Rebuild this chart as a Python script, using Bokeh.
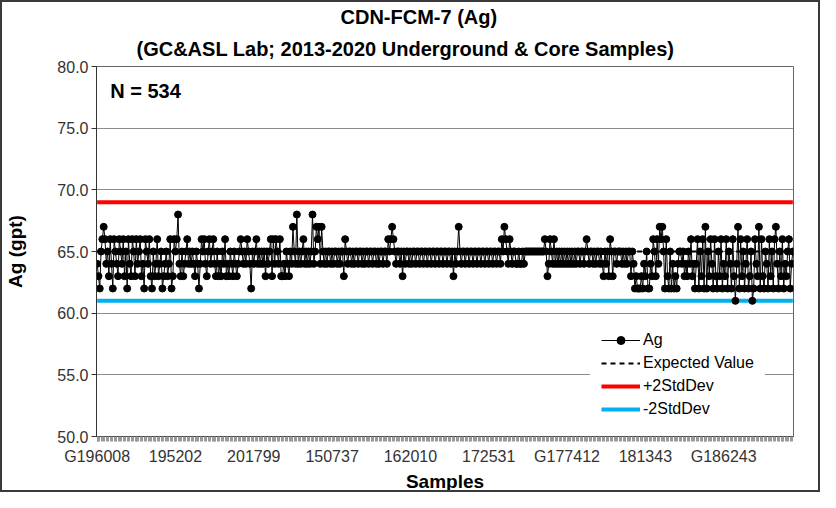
from bokeh.plotting import figure
from bokeh.models import (Range1d, FixedTicker, NumeralTickFormatter, Label, Title,
                          Legend, LegendItem, ColumnDataSource)
from bokeh.embed import file_html
from bokeh.resources import INLINE

# ---------------- data ----------------
title_line1 = "CDN-FCM-7 (Ag)"
title_line2 = "(GC&ASL Lab; 2013-2020 Underground & Core Samples)"
x_title = "Samples"
y_title = "Ag (gpt)"

tick_labels = ["G196008", "195202", "201799", "150737", "162010",
               "172531", "G177412", "181343", "G186243"]
label_every = 60

expected_value = 65.0
plus_2sd = 69.0
minus_2sd = 61.0

ag_values = [
    # 0-59
    64, 63, 62, 65, 66, 67, 66, 64, 65, 63, 66, 64, 62, 66, 65, 64, 63, 66, 65, 64,
    66, 63, 65, 62, 66, 64, 63, 66, 65, 63, 66, 64, 65, 66, 63, 64, 62, 66, 65, 64,
    66, 63, 62, 65, 63, 64, 66, 63, 64, 65, 62, 63, 64, 65, 63, 64, 66, 62, 63, 66,
    # 60-119
    65, 66, 68, 64, 63, 65, 63, 64, 65, 66, 64, 65, 64, 65, 64, 63, 65, 64, 62, 64,
    66, 65, 66, 64, 63, 65, 66, 64, 65, 66, 64, 63, 65, 63, 64, 63, 65, 64, 66, 63,
    64, 63, 65, 64, 63, 65, 64, 63, 64, 65, 66, 65, 64, 65, 64, 66, 65, 64, 62, 65,
    # 120-179
    64, 65, 66, 64, 65, 64, 65, 64, 65, 63, 65, 64, 65, 66, 63, 66, 64, 66, 65, 64,
    66, 63, 63, 64, 63, 65, 64, 63, 65, 64, 67, 65, 64, 68, 64, 65, 64, 65, 66, 64,
    65, 64, 65, 64, 65, 68, 64, 65, 67, 66, 67, 64, 67, 65, 64, 65, 64, 65, 65, 64,
    # 180-239
    65, 64, 65, 65, 64, 65, 64, 65, 65, 63, 66, 65, 64, 65, 65, 64, 65, 64, 65, 65,
    64, 65, 65, 64, 65, 64, 65, 65, 64, 65, 65, 64, 65, 65, 64, 65, 64, 65, 65, 64,
    65, 65, 64, 66, 65, 66, 67, 66, 65, 64, 65, 65, 64, 65, 63, 65, 64, 65, 65, 64,
    # 240-299
    65, 64, 65, 65, 64, 65, 65, 64, 65, 65, 64, 65, 65, 64, 65, 65, 64, 65, 65, 64,
    65, 65, 64, 65, 65, 64, 65, 65, 64, 65, 65, 64, 65, 63, 65, 64, 65, 67, 65, 64,
    65, 65, 64, 65, 65, 64, 65, 65, 64, 65, 65, 64, 65, 65, 64, 65, 65, 64, 65, 65,
    # 300-359
    64, 65, 65, 64, 65, 65, 64, 65, 65, 64, 66, 65, 67, 66, 65, 64, 66, 65, 64, 65,
    65, 64, 64, 65, 64, 64, 65, 64, 65, 65, 65, 65, 65, 65, 65, 65, 65, 65, 65, 65,
    65, 65, 65, 66, 65, 63, 64, 66, 65, 64, 66, 64, 65, 64, 65, 64, 65, 64, 65, 64,
    # 360-419
    65, 64, 65, 64, 65, 64, 65, 64, 65, 65, 64, 65, 65, 64, 65, 66, 65, 64, 65, 65,
    64, 65, 64, 65, 65, 64, 65, 64, 63, 65, 64, 65, 63, 66, 65, 63, 65, 65, 64, 65,
    65, 65, 64, 65, 64, 65, 64, 65, 65, 63, 65, 64, 62, 63, 62, 62, 62, 63, 62, 64,
    # 420-479
    63, 65, 62, 62, 64, 63, 66, 65, 63, 66, 64, 67, 66, 67, 65, 62, 66, 63, 62, 65,
    62, 64, 62, 63, 62, 64, 65, 65, 64, 65, 63, 64, 63, 65, 64, 66, 63, 64, 62, 64,
    66, 62, 65, 63, 66, 62, 67, 62, 65, 63, 66, 64, 62, 66, 63, 62, 65, 63, 66, 62,
    # 480-533
    64, 63, 66, 62, 65, 64, 62, 66, 63, 61, 64, 67, 62, 66, 63, 65, 62, 64, 66, 62,
    63, 65, 61, 62, 66, 64, 63, 67, 62, 66, 63, 62, 65, 64, 62, 66, 63, 65, 62, 66,
    67, 64, 62, 65, 63, 66, 62, 64, 63, 65, 66, 62, 64, 65,
]

n = len(ag_values)
idx = list(range(n))
src = ColumnDataSource(data=dict(x=idx, y=ag_values))

FONT = "Liberation Sans"

p = figure(width=820, height=492, output_backend="svg", toolbar_location=None,
           x_range=Range1d(-0.5, n - 0.5), y_range=Range1d(50, 80),
           min_border_left=94, min_border_right=29, min_border_top=10,
           min_border_bottom=40, background_fill_color="white",
           border_fill_color="white", outline_line_color="#666666")
p.title = None
p.styles = {"border": "2px solid #3a3a3a"}

# titles (first added is nearest the plot)
p.add_layout(Title(text=title_line2, align="left", offset=40,
                   text_font=FONT, text_font_size="20px",
                   text_font_style="bold", text_color="black",
                   standoff=14), "above")
p.add_layout(Title(text=title_line1, align="left", offset=244,
                   text_font=FONT, text_font_size="20px",
                   text_font_style="bold", text_color="black",
                   standoff=2), "above")

# lines
xs = [0, n - 1]
r_plus = p.line(xs, [plus_2sd, plus_2sd], line_color="#ff0000", line_width=4)
r_minus = p.line(xs, [minus_2sd, minus_2sd], line_color="#00b0f0", line_width=4)
r_exp = p.line(xs, [expected_value, expected_value], line_color="black",
               line_width=2, line_dash="5 4")
r_ag_line = p.line("x", "y", source=src, line_color="black", line_width=1)
r_ag_pts = p.scatter("x", "y", source=src, size=7, fill_color="black",
                     line_color="black", marker="circle")

# axes
p.xgrid.visible = False
p.ygrid.grid_line_color = "#8c8c8c"
p.ygrid.grid_line_width = 1

p.yaxis.ticker = FixedTicker(ticks=[50, 55, 60, 65, 70, 75, 80])
p.yaxis.formatter = NumeralTickFormatter(format="0.0")
p.yaxis.major_tick_out = 5
p.yaxis.major_tick_in = 0
p.yaxis.minor_tick_out = 0
p.yaxis.major_label_standoff = 3
p.yaxis.axis_label = y_title
p.yaxis.axis_label_standoff = 28

p.xaxis.ticker = FixedTicker(ticks=list(range(0, n, 15)), minor_ticks=idx)
p.xaxis.major_label_overrides = {i: "" for i in range(0, n, 15)}
for k, lab in enumerate(tick_labels):
    p.xaxis.major_label_overrides[k * label_every] = lab
p.xaxis.major_tick_out = 5
p.xaxis.major_tick_in = 0
p.xaxis.minor_tick_out = 5
p.xaxis.minor_tick_in = 0
p.xaxis.minor_tick_line_color = "#9a9a9a"
p.xaxis.major_label_standoff = 6
p.xaxis.axis_label = x_title
p.xaxis.axis_label_standoff = 3

for ax in (p.xaxis[0], p.yaxis[0]):
    ax.axis_line_color = "#333333"
    ax.major_tick_line_color = "#333333"
    ax.major_label_text_font = FONT
    ax.major_label_text_font_size = "16px"
    ax.major_label_text_color = "#333333"
    ax.axis_label_text_font = FONT
    ax.axis_label_text_font_size = "19px"
    ax.axis_label_text_font_style = "bold"
    ax.axis_label_text_color = "black"

p.add_layout(Label(x=10, y=78, text=f"N = {n}", text_font=FONT,
                   text_font_size="20px", text_font_style="bold",
                   text_baseline="middle", text_color="black"))

legend = Legend(items=[
    LegendItem(label="Ag", renderers=[r_ag_line, r_ag_pts]),
    LegendItem(label="Expected Value", renderers=[r_exp]),
    LegendItem(label="+2StdDev", renderers=[r_plus]),
    LegendItem(label="-2StdDev", renderers=[r_minus]),
], location=(494, 6), margin=0, padding=11, spacing=3,
    label_height=20, glyph_height=20, glyph_width=39, label_standoff=3,
    label_text_font=FONT, label_text_font_size="16px", label_text_color="black",
    background_fill_color="white", background_fill_alpha=1.0,
    border_line_alpha=0)
p.add_layout(legend, "center")

open("out.html", "w").write(file_html(p, INLINE))
